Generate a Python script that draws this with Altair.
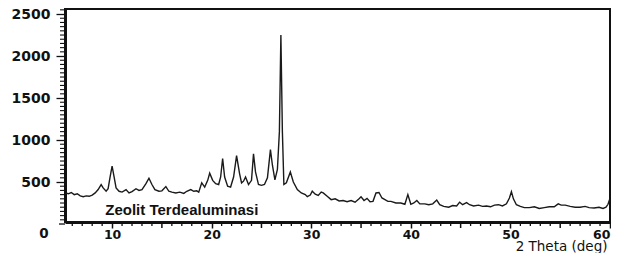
import altair as alt
import pandas as pd

two_theta = [5.3, 5.6, 5.9, 6.2, 6.5, 6.8, 7.1, 7.4, 7.7, 8.0, 8.3, 8.6, 8.9, 9.1, 9.4, 9.6, 9.8, 10.0,
             10.2, 10.4, 10.7, 11.0, 11.4, 11.7, 12.0, 12.4, 12.7, 13.0, 13.4, 13.7, 14.0, 14.3, 14.7,
             15.0, 15.4, 15.7, 16.0, 16.4, 16.8, 17.2, 17.5, 17.9, 18.2, 18.5, 18.7, 19.0, 19.3, 19.6,
             19.8, 20.1, 20.4, 20.7, 20.9, 21.1, 21.3, 21.6, 21.9, 22.2, 22.5, 22.8, 23.0, 23.2, 23.4,
             23.7, 24.0, 24.2, 24.4, 24.7, 25.0, 25.3, 25.6, 25.9, 26.1, 26.35, 26.6, 26.8, 26.95,
             27.1, 27.25, 27.5, 27.9, 28.2, 28.6, 29.0, 29.4, 29.6, 29.9, 30.1, 30.4, 30.7, 31.0,
             31.2, 31.6, 32.0, 32.4, 32.8, 33.2, 33.6, 34.0, 34.4, 34.8, 35.0, 35.3, 35.6, 35.9,
             36.2, 36.5, 36.8, 37.1, 37.4, 37.7, 38.0, 38.5, 39.0, 39.4, 39.7, 40.0, 40.3, 40.6,
             40.9, 41.4, 41.8, 42.2, 42.6, 42.9, 43.3, 43.8, 44.2, 44.6, 44.9, 45.2, 45.6, 45.9,
             46.3, 46.8, 47.2, 47.6, 48.0, 48.4, 48.8, 49.2, 49.6, 49.9, 50.1, 50.3, 50.6, 51.0,
             51.4, 51.9, 52.4, 52.9, 53.4, 53.9, 54.4, 54.8, 55.1, 55.5, 56.0, 56.5, 57.0, 57.5,
             57.9, 58.4, 58.9, 59.3, 59.6, 59.8, 59.95]
intensity = [370, 360, 375, 350, 360, 335, 325, 335, 330, 345, 370, 410, 470, 430, 390, 420, 560, 690,
             560, 430, 390, 380, 410, 370, 385, 420, 400, 410, 480, 545, 470, 410, 390,
             395, 445, 390, 380, 370, 380, 365, 390, 410, 390, 395, 380, 490, 440, 520,
             605, 520, 480, 470, 560, 780, 560, 450, 440, 560, 815, 600, 490, 510, 560,
             470, 520, 835, 620, 470, 460, 470, 550, 885, 700, 525, 650, 1100, 2250,
             1100, 470, 490, 620, 500, 410, 370, 350, 325, 345, 390, 355, 340, 380,
             370, 330, 290, 300, 275, 280, 265, 280, 260, 300, 325, 280, 305, 265,
             270, 370, 375, 310, 290, 270, 270, 250, 250, 235, 350, 235, 250, 280,
             240, 240, 230, 240, 285, 230, 210, 200, 220, 215, 260, 230, 255, 230,
             215, 225, 210, 215, 205, 225, 230, 215, 240, 310, 385, 300, 230, 210,
             195, 195, 205, 185, 195, 205, 205, 240, 225, 225, 210, 200, 200, 210,
             195, 190, 200, 185, 200, 235, 290]

x_labels = [10, 20, 30, 40, 50, 60]
x_mid_ticks = [15, 25, 35, 45, 55]
x_minor_ticks = [v for v in range(6, 61) if v % 5 != 0]
y_labels = [500, 1000, 1500, 2000, 2500]
y_minor_ticks = [v for v in range(50, 2551, 50) if v % 500 != 0]
y_zero = [0]
sample_label = ["Zeolit Terdealuminasi"]
label_x = [17.0]
label_y = [167]
x_title = "2 Theta (deg)"

W, H = 545, 213

df = pd.DataFrame({"t": two_theta, "i": intensity})
lab = pd.DataFrame({"text": sample_label, "x": label_x, "y": label_y})

xscale = alt.Scale(domain=[5.27, 60.0], nice=False, zero=False)
yscale = alt.Scale(domain=[24, 2560], nice=False, zero=False)

xaxis = alt.Axis(
    values=x_labels, title=x_title, titleFont="DejaVu Sans", titleFontSize=13.5,
    titleFontWeight="normal", titleColor="#111", titleAnchor="end", titleAlign="right",
    titleX=W - 3, titleY=28, titleBaseline="alphabetic",
    labelOverlap=False, labelFlush=True,
    labelFont="DejaVu Sans", labelFontWeight="bold", labelFontSize=12.5, labelColor="#111",
    labelPadding=0, tickColor="#111", tickWidth=1.5, tickSize=6,
    domainColor="#111", domainWidth=3, grid=False,
)
yaxis = alt.Axis(
    values=y_labels, title=None, format="d",
    labelOverlap=False, labelFlush=False,
    labelFont="DejaVu Sans", labelFontWeight="bold", labelFontSize=14, labelColor="#111",
    labelPadding=6, tickColor="#111", tickWidth=1.3, tickSize=9,
    domainColor="#111", domainWidth=3, grid=False,
)

line = alt.Chart(df).mark_line(color="#1a1a1a", strokeWidth=1.4).encode(
    x=alt.X("t:Q", scale=xscale, axis=xaxis),
    y=alt.Y("i:Q", scale=yscale, axis=yaxis),
)

xminor = alt.Chart(pd.DataFrame({"v": x_minor_ticks})).mark_rule(color="#111", strokeWidth=1.3).encode(
    x=alt.X("v:Q", scale=xscale), y=alt.value(H), y2=alt.value(H + 4))
xmid = alt.Chart(pd.DataFrame({"v": x_mid_ticks})).mark_rule(color="#111", strokeWidth=1.5).encode(
    x=alt.X("v:Q", scale=xscale), y=alt.value(H), y2=alt.value(H + 6))
yminor = alt.Chart(pd.DataFrame({"v": y_minor_ticks})).mark_rule(color="#111", strokeWidth=1.1).encode(
    y=alt.Y("v:Q", scale=yscale), x=alt.value(-5), x2=alt.value(0))
yzero = alt.Chart(pd.DataFrame({"v": y_zero})).mark_rule(color="#111", strokeWidth=1.3).encode(
    y=alt.Y("v:Q", scale=yscale), x=alt.value(-6), x2=alt.value(0))
yzero_label = alt.Chart(pd.DataFrame({"v": y_zero})).mark_text(
    font="DejaVu Sans", fontWeight="bold", fontSize=13.5, color="#111",
    align="center", baseline="middle", dy=10,
).encode(y=alt.Y("v:Q", scale=yscale), x=alt.value(-21), text=alt.Text("v:Q", format="d"))

text = alt.Chart(lab).mark_text(
    font="Liberation Sans", fontWeight="bold", fontSize=15, color="#111",
    align="center", baseline="middle",
).encode(x=alt.X("x:Q", scale=xscale), y=alt.Y("y:Q", scale=yscale), text="text:N")

chart = alt.layer(line, xminor, xmid, yminor, yzero, yzero_label, text).properties(
    width=W, height=H,
    autosize=alt.AutoSizeParams(type="none"),
    padding={"left": 57, "top": 1, "right": 1, "bottom": 31},
).configure_view(stroke="#111", strokeWidth=2)

chart.save("out.html", embed_options={"renderer": "svg", "actions": False})
